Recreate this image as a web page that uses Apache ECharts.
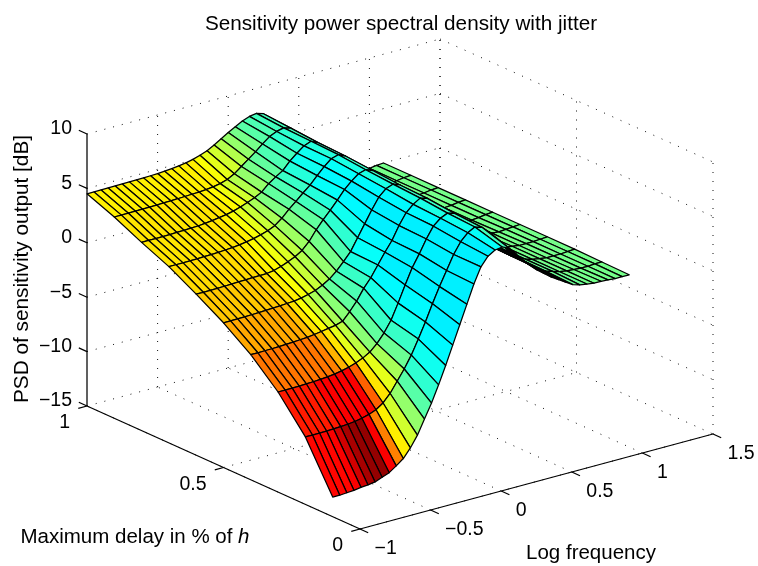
<!DOCTYPE html>
<html>
<head>
<meta charset="utf-8">
<style>html,body{margin:0;padding:0;background:#fff}#c{width:758px;height:566px}</style>
<script src="https://cdn.jsdelivr.net/npm/echarts@6/dist/echarts.min.js"></script>
</head>
<body>
<div id="c"></div>
<script>
const titleText = 'Sensitivity power spectral density with jitter';
const xName = 'Log frequency';
const yName = 'Maximum delay in % of {i|h}';
const zName = 'PSD of sensitivity output [dB]';

const xTicks = [-1, -0.5, 0, 0.5, 1, 1.5];
const yTicks = [0, 0.5, 1];
const zTicks = [-15, -10, -5, 0, 5, 10];
const xTickLabels = ['\u22121', '\u22120.5', '0', '0.5', '1', '1.5'];
const yTickLabels = ['0', '0.5', '1'];
const zTickLabels = ['\u221215', '\u221210', '\u22125', '0', '5', '10'];

const logFrequency = [
  -1.00,-0.95,-0.90,-0.85,-0.80,-0.75,-0.70,-0.65,-0.60,-0.55,
  -0.50,-0.45,-0.40,-0.35,-0.30,-0.25,-0.20,-0.15,-0.10,-0.05,
   0.00, 0.05, 0.10, 0.15, 0.20, 0.25, 0.30, 0.35, 0.40, 0.45,
   0.50, 0.55, 0.60, 0.65, 0.70, 0.75, 0.80, 0.85, 0.90, 0.95,
   1.00, 1.05, 1.10];
const delays = [1.0, 0.9, 0.8, 0.7, 0.6, 0.5, 0.4, 0.3, 0.2, 0.1];

const psdDelay100 = [
  4.50,4.50,4.51,4.52,4.53,4.54,4.55,4.56,4.57,4.59,
  4.62,4.66,4.72,4.80,4.90,5.05,5.25,5.50,5.85,6.25,
  6.65,7.00,7.35,7.60,7.70,7.50,6.80,5.90,4.80,3.80,
  3.00,2.40,1.80,1.15,0.60,0.30,0.10,-0.05,-0.20,-0.25,
  -0.15,-0.05,0.00];
const psdDelay90 = [
  3.50,3.50,3.50,3.51,3.52,3.53,3.55,3.57,3.59,3.61,
  3.64,3.67,3.70,3.75,3.82,3.95,4.15,4.50,5.00,5.50,
  6.00,6.55,7.05,7.35,7.50,7.30,6.60,5.70,4.65,3.70,
  2.90,2.30,1.70,1.10,0.60,0.30,0.10,-0.05,-0.20,-0.25,
  -0.15,-0.05,0.00];
const psdDelay80 = [
  2.30,2.30,2.30,2.31,2.32,2.34,2.36,2.38,2.41,2.47,
  2.55,2.65,2.75,2.90,3.10,3.35,3.60,3.95,4.55,5.00,
  5.40,6.10,6.65,7.15,7.40,7.10,6.40,5.50,4.50,3.60,
  2.85,2.25,1.65,1.10,0.60,0.30,0.10,-0.05,-0.15,-0.20,
  -0.15,-0.05,0.00];
const psdDelay70 = [
  1.20,1.20,1.20,1.21,1.22,1.24,1.26,1.29,1.33,1.38,
  1.45,1.55,1.68,1.85,2.05,2.35,2.85,3.50,4.05,4.65,
  5.20,5.90,6.55,7.10,7.30,7.00,6.30,5.40,4.40,3.55,
  2.80,2.20,1.60,1.05,0.60,0.30,0.10,-0.05,-0.15,-0.20,
  -0.15,-0.05,0.00];
const psdDelay60 = [
  -0.20,-0.20,-0.20,-0.19,-0.17,-0.15,-0.12,-0.10,-0.08,-0.06,
  -0.05,0.05,0.25,0.50,0.80,1.20,1.85,2.75,3.50,4.20,
  4.95,5.75,6.35,6.85,7.05,6.80,6.10,5.25,4.30,3.45,
  2.70,2.15,1.55,1.00,0.55,0.30,0.10,-0.05,-0.15,-0.20,
  -0.15,-0.05,0.00];
const psdDelay50 = [
  -1.70,-1.70,-1.69,-1.68,-1.66,-1.63,-1.60,-1.57,-1.54,-1.50,
  -1.45,-1.35,-1.20,-1.00,-0.70,-0.30,0.25,0.95,1.70,2.80,
  3.90,5.00,6.00,6.60,6.85,6.60,5.95,5.10,4.20,3.35,
  2.65,2.10,1.50,1.00,0.55,0.30,0.10,-0.05,-0.10,-0.15,
  -0.10,-0.05,0.00];
const psdDelay40 = [
  -3.50,-3.50,-3.49,-3.48,-3.46,-3.43,-3.39,-3.35,-3.30,-3.22,
  -3.12,-3.00,-2.90,-2.70,-2.00,-1.20,-0.20,0.60,1.60,2.60,
  3.50,4.70,5.70,6.30,6.70,6.50,5.85,5.00,4.10,3.30,
  2.60,2.05,1.50,1.00,0.55,0.30,0.10,0.00,-0.10,-0.10,
  -0.10,-0.05,0.00];
const psdDelay30 = [
  -5.80,-5.80,-5.79,-5.78,-5.76,-5.73,-5.69,-5.63,-5.55,-5.43,
  -5.27,-5.05,-4.78,-4.40,-3.80,-3.00,-2.00,-0.60,0.90,2.30,
  3.40,4.60,5.60,6.15,6.45,6.25,5.65,4.85,4.00,3.20,
  2.55,2.00,1.45,0.95,0.55,0.30,0.10,0.00,-0.10,-0.10,
  -0.10,-0.05,0.00];
const psdDelay20 = [
  -8.80,-8.80,-8.79,-8.78,-8.76,-8.73,-8.68,-8.60,-8.48,-8.30,
  -8.05,-7.60,-6.90,-5.95,-5.00,-3.90,-2.60,-1.20,0.30,1.70,
  3.00,4.30,5.30,5.95,6.30,6.10,5.50,4.70,3.90,3.10,
  2.50,1.95,1.40,0.90,0.50,0.30,0.10,0.00,-0.05,-0.10,
  -0.10,-0.05,-0.05];
const psdDelay10 = [
  -13.20,-13.20,-13.15,-13.10,-13.00,-12.95,-12.85,-12.60,-12.35,-11.90,
  -11.40,-10.60,-9.60,-8.30,-7.00,-5.50,-3.90,-2.20,-0.50,1.20,
  2.90,4.30,5.10,5.50,5.60,5.30,4.60,3.80,3.20,2.60,
  2.10,1.60,1.20,0.80,0.40,0.20,0.10,0.00,0.00,-0.05,
  -0.10,-0.10,-0.10];
const psdRows = [psdDelay100, psdDelay90, psdDelay80, psdDelay70, psdDelay60,
                 psdDelay50, psdDelay40, psdDelay30, psdDelay20, psdDelay10];

// colormap level of each facet (0 = blue end, 1 = dark red end of the jet map)
const facetBand1 = [
  .64,.64,.64,.64,.64,.64,.64,.64,.64,.64,
  .64,.64,.64,.64,.64,.62,.60,.58,.55,.52,
  .49,.46,.45,.44,.44,.45,.46,.47,.47,.47,
  .47,.48,.48,.48,.48,.48,.49,.49,.49,.49,.49,.49];
const facetBand2 = [
  .65,.65,.65,.65,.65,.65,.65,.65,.65,.65,
  .65,.65,.64,.63,.61,.58,.55,.52,.49,.47,
  .45,.44,.42,.42,.44,.45,.46,.47,.47,.47,
  .47,.48,.48,.48,.48,.48,.49,.49,.49,.49,.49,.49];
const facetBand3 = [
  .65,.65,.65,.65,.65,.65,.65,.65,.65,.65,
  .65,.64,.62,.60,.57,.54,.50,.47,.45,.43,
  .41,.39,.39,.41,.43,.45,.46,.47,.47,.47,
  .47,.48,.48,.48,.48,.48,.49,.49,.49,.49,.49,.49];
const facetBand4 = [
  .66,.66,.66,.66,.66,.66,.66,.66,.66,.65,
  .64,.63,.61,.59,.56,.53,.50,.47,.44,.41,
  .38,.37,.38,.40,.43,.45,.46,.47,.47,.47,
  .47,.48,.48,.48,.48,.48,.49,.49,.49,.49,.49,.49];
const facetBand5 = [
  .68,.68,.68,.68,.68,.68,.68,.68,.67,.66,
  .64,.62,.60,.57,.55,.52,.49,.45,.42,.39,
  .37,.36,.37,.40,.43,.45,.46,.47,.47,.47,
  .47,.48,.48,.48,.48,.48,.49,.49,.49,.49,.49,.49];
const facetBand6 = [
  .71,.71,.71,.71,.71,.71,.71,.71,.69,.65,
  .62,.58,.54,.51,.47,.45,.43,.40,.38,.37,
  .36,.36,.37,.40,.43,.45,.46,.47,.47,.47,
  .47,.48,.48,.48,.48,.48,.49,.49,.49,.49,.49,.49];
const facetBand7 = [
  .76,.76,.76,.76,.76,.76,.76,.76,.75,.70,
  .65,.60,.56,.51,.47,.43,.40,.37,.36,.36,
  .36,.36,.37,.40,.43,.45,.46,.47,.47,.47,
  .47,.48,.48,.48,.48,.48,.49,.49,.49,.49,.49,.49];
const facetBand8 = [
  .85,.85,.85,.85,.85,.88,.88,.88,.88,.88,
  .78,.65,.60,.54,.48,.43,.39,.37,.36,.36,
  .36,.36,.36,.39,.43,.45,.46,.47,.47,.47,
  .47,.48,.48,.48,.48,.48,.49,.49,.49,.49,.49,.49];
const facetBand9 = [
  .87,.87,.87,.88,.92,.96,.98,.98,.88,.75,
  .64,.58,.52,.46,.42,.39,.37,.36,.36,.36,
  .36,.36,.36,.38,.44,.45,.46,.47,.47,.47,
  .47,.48,.48,.48,.48,.48,.49,.49,.49,.49,.49,.49];
const facetRows = [facetBand1, facetBand2, facetBand3, facetBand4, facetBand5,
                   facetBand6, facetBand7, facetBand8, facetBand9];

// orthographic view of the box: pixel position of the front-bottom corner and per-unit steps
const view = {ox: 360, oy: 529, xdx: 141.2, xdy: -38, ydx: -273, ydy: -123, zdy: -10.88};
const xMin = -1, xMax = 1.5, yMin = 0, yMax = 1, zMin = -15, zMax = 10;
const tickLen = 9;
const FONT = '"Liberation Sans", Arial, Helvetica, sans-serif';
const tickFontSize = 19.5;
const labelFontSize = 20.5;

function project(x, y, z) {
  return [view.ox + (x - xMin) * view.xdx + y * view.ydx,
          view.oy + (x - xMin) * view.xdy + y * view.ydy + (z - zMin) * view.zdy];
}
function jet(t) {
  const c = v => Math.round(255 * Math.max(0, Math.min(1, v)));
  return 'rgb(' + c(1.5 - Math.abs(4 * t - 3)) + ',' + c(1.5 - Math.abs(4 * t - 2)) + ',' + c(1.5 - Math.abs(4 * t - 1)) + ')';
}

// dotted grid on the floor and the two back walls
const gridSegments = [];
xTicks.forEach(x => {
  if (x !== xMax) gridSegments.push([x, yMin, zMin, x, yMax, zMin]);
  if (x !== xMin) gridSegments.push([x, yMax, zMin, x, yMax, zMax]);
});
yTicks.forEach(y => {
  if (y !== yMax) gridSegments.push([xMin, y, zMin, xMax, y, zMin]);
  gridSegments.push([xMax, y, zMin, xMax, y, zMax]);
});
zTicks.forEach(z => {
  gridSegments.push([xMin, yMax, z, xMax, yMax, z]);
  gridSegments.push([xMax, yMax, z, xMax, yMin, z]);
});

// solid axis lines
const axisSegments = [
  [xMin, yMin, zMin, xMax, yMin, zMin],
  [xMin, yMin, zMin, xMin, yMax, zMin],
  [xMin, yMax, zMin, xMin, yMax, zMax]
];
const xUnit = Math.hypot(view.xdx, view.xdy), yUnit = Math.hypot(view.ydx, view.ydy);
const tickSegments = [];
xTicks.forEach(x => tickSegments.push([x, yMin, zMin, x, yMin - tickLen / yUnit, zMin]));
yTicks.forEach(y => tickSegments.push([xMin, y, zMin, xMin - tickLen / xUnit, y, zMin]));
zTicks.forEach(z => tickSegments.push([xMin, yMax, z, xMin, yMax + tickLen / yUnit, z]));

// facets, painted from the far corner to the near corner
const facets = [];
for (let r = 0; r < delays.length - 1; r++) {
  for (let c = logFrequency.length - 2; c >= 0; c--) facets.push([r, c]);
}

// text labels: [x, y, z, text, pixel dx, pixel dy, align]
const tickTexts = [];
xTicks.forEach((x, i) => tickTexts.push([x, yMin, zMin, xTickLabels[i], 14.5, 19.5, 'left']));
yTicks.forEach((y, i) => tickTexts.push([xMin, y, zMin, yTickLabels[i], -17, 17, 'right']));
zTicks.forEach((z, i) => tickTexts.push([xMin, yMax, z, zTickLabels[i], -15, -5, 'right']));

function segmentItem(list, style) {
  return function (params, api) {
    const s = list[params.dataIndex];
    const a = api.coord(project(s[0], s[1], s[2]));
    const b = api.coord(project(s[3], s[4], s[5]));
    return {type: 'line', silent: true, shape: {x1: a[0], y1: a[1], x2: b[0], y2: b[1]}, style: style};
  };
}
function segmentSeries(list, style, z) {
  return {
    type: 'custom', coordinateSystem: 'cartesian2d', silent: true, clip: false, z: z, animation: false,
    data: list.map((s, i) => [i, 0]), encode: {x: 0, y: 1},
    renderItem: segmentItem(list, style)
  };
}

const option = {
  animation: false,
  backgroundColor: '#fff',
  title: {
    text: titleText, left: 396, top: 9, textAlign: 'center',
    textStyle: {fontFamily: FONT, fontSize: 20.7, fontWeight: 'normal', color: '#000'}
  },
  grid: {left: 0, top: 0, width: 758, height: 566},
  xAxis: {type: 'value', min: 0, max: 758, show: false},
  yAxis: {type: 'value', min: 0, max: 566, inverse: true, show: false},
  series: [
    segmentSeries(gridSegments, {stroke: '#111', lineWidth: 1, lineDash: [1, 8], fill: null}, 1),
    {
      type: 'custom', coordinateSystem: 'cartesian2d', silent: true, clip: false, z: 2, animation: false,
      data: facets, encode: {x: 0, y: 1},
      renderItem: function (params, api) {
        const r = api.value(0), c = api.value(1);
        const corners = [[r, c], [r, c + 1], [r + 1, c + 1], [r + 1, c]];
        const pts = corners.map(k => api.coord(project(logFrequency[k[1]], delays[k[0]], psdRows[k[0]][k[1]])));
        return {
          type: 'polygon', silent: true, shape: {points: pts},
          style: {fill: jet(facetRows[r][c]), stroke: '#000', lineWidth: 1.25, lineJoin: 'round'}
        };
      }
    },
    segmentSeries(axisSegments, {stroke: '#000', lineWidth: 1.25, fill: null}, 3),
    segmentSeries(tickSegments, {stroke: '#000', lineWidth: 1.25, fill: null}, 3),
    {
      type: 'custom', coordinateSystem: 'cartesian2d', silent: true, clip: false, z: 4, animation: false,
      data: tickTexts.map((t, i) => [i, 0]), encode: {x: 0, y: 1},
      renderItem: function (params, api) {
        const t = tickTexts[params.dataIndex];
        const p = api.coord(project(t[0], t[1], t[2]));
        return {
          type: 'text', silent: true,
          style: {x: p[0] + t[4], y: p[1] + t[5], text: t[3], fill: '#000', align: t[6], verticalAlign: 'middle',
                  font: tickFontSize + 'px ' + FONT}
        };
      }
    },
    {
      type: 'custom', coordinateSystem: 'cartesian2d', silent: true, clip: false, z: 4, animation: false,
      data: [[0, 0], [1, 0], [2, 0]], encode: {x: 0, y: 1},
      renderItem: function (params, api) {
        const i = params.dataIndex;
        const base = {fill: '#000', font: labelFontSize + 'px ' + FONT, align: 'center', verticalAlign: 'middle'};
        if (i === 0) {
          const p = api.coord([591, 553]);
          return {type: 'text', silent: true, style: Object.assign({x: p[0], y: p[1], text: xName}, base)};
        }
        if (i === 1) {
          const p = api.coord([135, 537]);
          return {type: 'text', silent: true, style: Object.assign({x: p[0], y: p[1], text: yName,
            rich: {i: {fontStyle: 'italic', fontFamily: FONT, fontSize: labelFontSize, fill: '#000'}}}, base)};
        }
        const p = api.coord([22, 269]);
        return {type: 'text', silent: true, x: p[0], y: p[1], rotation: Math.PI / 2,
                style: Object.assign({x: 0, y: 0, text: zName, font: '20.8px ' + FONT}, {fill: '#000', align: 'center', verticalAlign: 'middle'})};
      }
    }
  ]
};
const chart = echarts.init(document.getElementById('c'), null, {renderer: 'canvas'});
chart.setOption(option);
</script>
</body>
</html>
